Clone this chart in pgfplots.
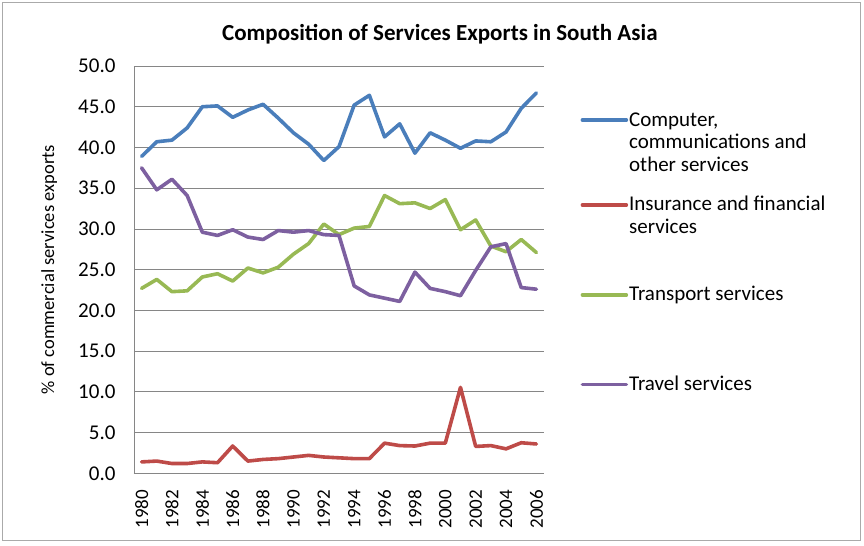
\documentclass[border=0pt]{standalone}
\usepackage{fontspec}
\setmainfont{Carlito}
\usepackage{pgfplots}
\pgfplotsset{compat=1.18}
\definecolor{cblue}{HTML}{4A7EBB}
\definecolor{cred}{HTML}{BE4B48}
\definecolor{cgreen}{HTML}{98B954}
\definecolor{cpurple}{HTML}{7D60A0}
\definecolor{gridgray}{HTML}{868686}
\pgfplotstableread{
year comp ins trans travel
1980 38.9 1.4 22.7 37.5
1981 40.7 1.5 23.8 34.8
1982 40.9 1.2 22.3 36.1
1983 42.4 1.2 22.4 34.1
1984 45.0 1.4 24.1 29.6
1985 45.1 1.3 24.5 29.2
1986 43.7 3.35 23.6 29.9
1987 44.6 1.5 25.2 29.0
1988 45.3 1.7 24.6 28.7
1989 43.6 1.8 25.3 29.8
1990 41.8 2.0 26.9 29.6
1991 40.4 2.2 28.2 29.8
1992 38.4 2.0 30.6 29.3
1993 40.1 1.9 29.3 29.2
1994 45.2 1.8 30.1 23.0
1995 46.4 1.8 30.3 21.9
1996 41.3 3.7 34.1 21.5
1997 42.9 3.4 33.1 21.1
1998 39.3 3.35 33.2 24.7
1999 41.8 3.7 32.5 22.7
2000 40.9 3.7 33.6 22.3
2001 39.9 10.55 29.9 21.8
2002 40.8 3.3 31.1 24.9
2003 40.7 3.4 27.9 27.8
2004 41.9 3.0 27.2 28.2
2005 44.8 3.75 28.7 22.8
2006 46.7 3.6 27.1 22.6
}\datatable
\begin{document}
\begin{tikzpicture}
\useasboundingbox (-134bp,-72.7bp) rectangle (730bp,473.3bp);
\draw[color=gridgray!70, line width=0.8bp] (-132bp,-67bp) rectangle (726bp,471bp);
\begin{axis}[
  at={(0bp,0bp)}, anchor=south west,
  scale only axis, width=410bp, height=407.3bp,
  xmin=1979.5, xmax=2006.5, ymin=0, ymax=50,
  xtick={1980,1982,...,2006}, ytick={0,5,...,50},
  ymajorgrids, grid style={color=gridgray, line width=0.8bp},
  axis lines*=left,
  axis line style={color=gridgray, line width=0.8bp},
  major tick length=0pt,
  /pgf/number format/assume math mode=true,
  tick label style={color=black},
  xticklabel style={font=\fontsize{19bp}{22bp}\selectfont, rotate=90, anchor=east, /pgf/number format/1000 sep={}},
  yticklabel style={font=\fontsize{21bp}{22bp}\selectfont, /pgf/number format/fixed, /pgf/number format/fixed zerofill, /pgf/number format/precision=1},
  xticklabel shift=13bp,
  yticklabel shift=15bp,
  ylabel={\% of commercial services exports},
  ylabel style={at={(axis description cs:-0.207,0.5)}, anchor=center, font=\fontsize{18.5bp}{22bp}\selectfont},
  title={Composition of Services Exports in South Asia},
  title style={at={(axis description cs:0.746,1.063)}, anchor=center, font=\bfseries\fontsize{23bp}{25bp}\selectfont},
  legend style={at={(axis description cs:1.0815,0.897)}, anchor=north west, draw=none, fill=none,
    font=\fontsize{21bp}{22.7bp}\selectfont, row sep=0bp,
    cells={anchor=base west},
    nodes={inner xsep=1bp, inner ysep=0bp},
    /tikz/every even column/.append style={column sep=0bp}},
  legend image code/.code={\path (0bp,0bp); \draw[#1, line width=3.5bp] (0bp,6bp) -- (44bp,6bp);},
  every axis plot/.append style={line width=3.6bp, line join=round, line cap=round},
]
\addplot[cblue, mark=none] table[x=year, y=comp] {\datatable};
\addlegendentry[text depth=69bp]{\begin{tabular}[t]{@{}l@{}}Computer,\\communications and\\other services\end{tabular}}
\addplot[cred, mark=none] table[x=year, y=ins] {\datatable};
\addlegendentry[text depth=74bp]{\begin{tabular}[t]{@{}l@{}}Insurance and financial\\services\end{tabular}}
\addplot[cgreen, mark=none] table[x=year, y=trans] {\datatable};
\addlegendentry[text depth=74bp]{\begin{tabular}[t]{@{}l@{}}Transport services\end{tabular}}
\addplot[cpurple, mark=none] table[x=year, y=travel] {\datatable};
\addlegendentry{\begin{tabular}[t]{@{}l@{}}Travel services\end{tabular}}
\end{axis}
\end{tikzpicture}
\end{document}
